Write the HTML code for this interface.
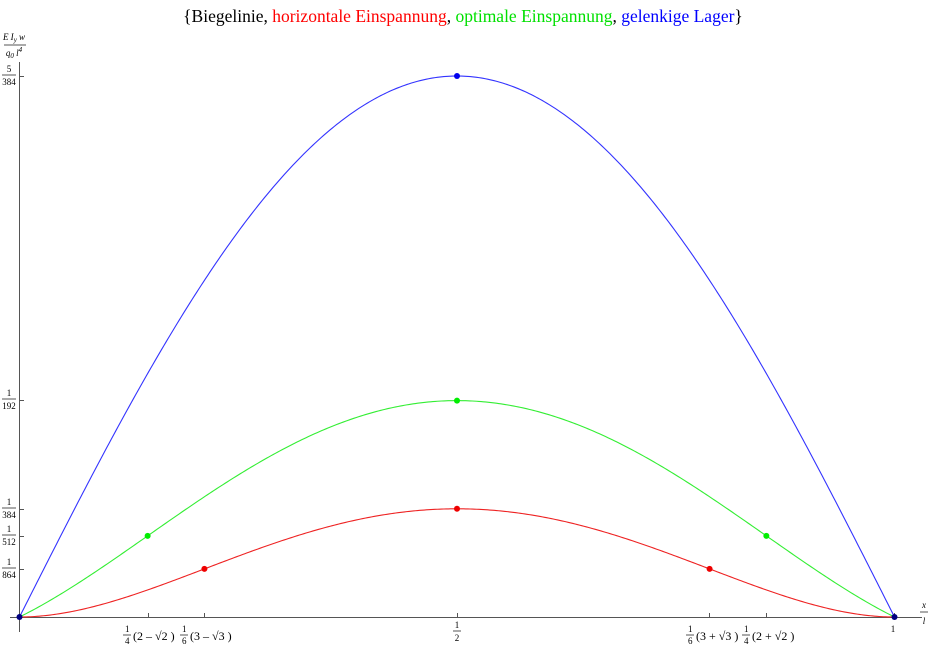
<!DOCTYPE html>
<html><head><meta charset="utf-8"><style>
body{margin:0;background:#fff}
svg text{font-family:"Liberation Serif",serif}
</style></head><body>
<svg id="s" width="928" height="650" xmlns="http://www.w3.org/2000/svg">
<text x="463" y="22" font-size="17.5" text-anchor="middle"><tspan fill="#000">{Biegelinie, </tspan><tspan fill="#ff0000">horizontale Einspannung</tspan><tspan fill="#000">, </tspan><tspan fill="#00e000">optimale Einspannung</tspan><tspan fill="#000">, </tspan><tspan fill="#0000ff">gelenkige Lager</tspan><tspan fill="#000">}</tspan></text>
<g stroke="#555" stroke-width="1">
<line x1="19.5" y1="62" x2="19.5" y2="632"/>
<line x1="10" y1="617.5" x2="922" y2="617.5"/>
<line x1="19.5" y1="76.5" x2="24" y2="76.5"/>
<line x1="19.5" y1="400.5" x2="24" y2="400.5"/>
<line x1="19.5" y1="509.5" x2="24" y2="509.5"/>
<line x1="19.5" y1="536.5" x2="24" y2="536.5"/>
<line x1="19.5" y1="569.5" x2="24" y2="569.5"/>
<line x1="148.5" y1="617" x2="148.5" y2="613"/>
<line x1="204.5" y1="617" x2="204.5" y2="613"/>
<line x1="457.5" y1="617" x2="457.5" y2="613"/>
<line x1="709.5" y1="617" x2="709.5" y2="613"/>
<line x1="766.5" y1="617" x2="766.5" y2="613"/>
<line x1="894.5" y1="617" x2="894.5" y2="613"/>
</g>
<g font-size="9" font-style="italic" text-anchor="middle">
<text x="14" y="40">E I<tspan font-size="7" dy="2">y</tspan><tspan dy="-2"> w</tspan></text>
<line x1="4" y1="45" x2="26" y2="45" stroke="#555"/>
<text x="14" y="56">q<tspan font-size="7" dy="2">0</tspan><tspan dy="-2"> l</tspan><tspan font-size="7" dy="-4">4</tspan></text>
<text x="924" y="608">x</text>
<line x1="920" y1="612" x2="928" y2="612" stroke="#555"/>
<text x="924" y="624">l</text>
</g>
<g font-size="9" text-anchor="middle" fill="#000">
<text x="9" y="72">5</text><line x1="2" y1="75" x2="16" y2="75" stroke="#555"/><text x="9" y="85">384</text>
<text x="9" y="396">1</text><line x1="2" y1="399" x2="16" y2="399" stroke="#555"/><text x="9" y="409">192</text>
<text x="9" y="505">1</text><line x1="2" y1="508" x2="16" y2="508" stroke="#555"/><text x="9" y="518">384</text>
<text x="9" y="532">1</text><line x1="2" y1="535" x2="16" y2="535" stroke="#555"/><text x="9" y="545">512</text>
<text x="9" y="565">1</text><line x1="2" y1="568" x2="16" y2="568" stroke="#555"/><text x="9" y="578">864</text>
<text x="457" y="628">1</text><line x1="453" y1="631" x2="461" y2="631" stroke="#555"/><text x="457" y="641">2</text>
<text x="893" y="632">1</text>
</g>
<g font-size="9" fill="#000">
<text x="125" y="632">1</text><line x1="123" y1="635" x2="131" y2="635" stroke="#555"/><text x="125" y="644">4</text><text x="133" y="640" font-size="12">(2 – √2 )</text>
<text x="182" y="632">1</text><line x1="180" y1="635" x2="188" y2="635" stroke="#555"/><text x="182" y="644">6</text><text x="190" y="640" font-size="12">(3 – √3 )</text>
<text x="688" y="632">1</text><line x1="686" y1="635" x2="694" y2="635" stroke="#555"/><text x="688" y="644">6</text><text x="696" y="640" font-size="12">(3 + √3 )</text>
<text x="744" y="632">1</text><line x1="742" y1="635" x2="750" y2="635" stroke="#555"/><text x="744" y="644">4</text><text x="752" y="640" font-size="12">(2 + √2 )</text>
</g>
<g id="curves" fill="none" stroke-width="1.1"></g>
<g id="dots"></g>
</svg>
<script>
var X=function(x){return 19.5+875*x},Y=function(w){return 617-w*41548};
var fb=function(x){return (x-2*x*x*x+x*x*x*x)/24},fr=function(x){return x*x*(1-x)*(1-x)/24},fg=function(x){return fr(x)+x*(1-x)/96};
var g=document.getElementById('curves'),d=document.getElementById('dots'),ns='http://www.w3.org/2000/svg';
[[fb,'#3333ff'],[fg,'#33ee33'],[fr,'#ee2222']].forEach(function(c){var s='';for(var i=0;i<=400;i++){var x=i/400;s+=(i?'L':'M')+X(x).toFixed(2)+' '+Y(c[0](x)).toFixed(2);}var p=document.createElementNS(ns,'path');p.setAttribute('d',s);p.setAttribute('stroke',c[1]);g.appendChild(p);});
function dot(x,w,col){var e=document.createElementNS(ns,'circle');e.setAttribute('cx',X(x));e.setAttribute('cy',Y(w));e.setAttribute('r',3);e.setAttribute('fill',col);d.appendChild(e);}
var a=(2-Math.SQRT2)/4,b=(3-Math.sqrt(3))/6;
dot(a,fg(a),'#00ee00');dot(1-a,fg(a),'#00ee00');dot(0.5,fg(0.5),'#00ee00');
dot(b,fr(b),'#ee0000');dot(1-b,fr(b),'#ee0000');dot(0.5,fr(0.5),'#ee0000');
dot(0.5,fb(0.5),'#0000ee');dot(0,0,'#000080');dot(1,0,'#000080');
</script>
</body></html>
